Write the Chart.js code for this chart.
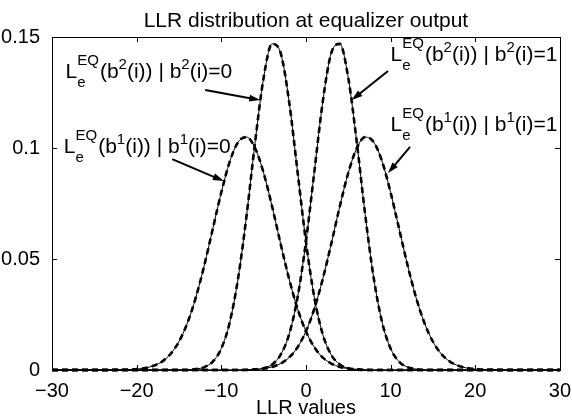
<!DOCTYPE html>
<html>
<head>
<meta charset="utf-8">
<title>LLR distribution at equalizer output</title>
<script src="https://cdn.jsdelivr.net/npm/chart.js@4.4.0/dist/chart.umd.min.js"></script>
<style>
  html, body { margin: 0; padding: 0; background: #fff; }
  canvas { display: block; }
</style>
</head>
<body>
<canvas id="llrChart" width="572" height="417"></canvas>
<script>
// LLR axis (x) and the four densities
var llrValues = [-30, -29, -28, -27, -26, -25, -24, -23, -22, -21, -20, -19, -18, -17, -16, -15, -14, -13, -12, -11,
    -10, -9, -8, -7, -6, -5, -4, -3, -2, -1, 0, 1, 2, 3, 4, 5, 6, 7, 8, 9,
    10, 11, 12, 13, 14, 15, 16, 17, 18, 19, 20, 21, 22, 23, 24, 25, 26, 27, 28, 29, 30];

// L_e^EQ(b2(i)) | b2(i)=0
var b2zero = [0, 0, 0, 0, 0, 0, 0, 0, 0, 0, 0, 0, 0, 0, 0, 0, 0, 0.0004, 0.0013, 0.0038,
    0.0097, 0.0215, 0.0416, 0.0700, 0.1028, 0.1316, 0.1469, 0.1429, 0.1212, 0.0896, 0.0578, 0.0325, 0.0159, 0.0068, 0.0025, 0.0008, 0.0002, 0, 0, 0,
    0, 0, 0, 0, 0, 0, 0, 0, 0, 0, 0, 0, 0, 0, 0, 0, 0, 0, 0, 0, 0];

// L_e^EQ(b1(i)) | b1(i)=0
var b1zero = [0, 0, 0, 0, 0, 0, 0, 0, 0.0001, 0.0001, 0.0004, 0.0009, 0.0019, 0.0038, 0.0072, 0.0128, 0.0212, 0.0328, 0.0473, 0.0637,
    0.0800, 0.0939, 0.1027, 0.1049, 0.0999, 0.0888, 0.0737, 0.0570, 0.0412, 0.0277, 0.0174, 0.0102, 0.0056, 0.0029, 0.0014, 0.0006, 0.0003, 0.0001, 0, 0,
    0, 0, 0, 0, 0, 0, 0, 0, 0, 0, 0, 0, 0, 0, 0, 0, 0, 0, 0, 0, 0];

// L_e^EQ(b2(i)) | b2(i)=1
var b2one = [0, 0, 0, 0, 0, 0, 0, 0, 0, 0, 0, 0, 0, 0, 0, 0, 0, 0, 0, 0,
    0, 0, 0, 0, 0.0002, 0.0008, 0.0025, 0.0068, 0.0159, 0.0325, 0.0578, 0.0896, 0.1212, 0.1429, 0.1469, 0.1316, 0.1028, 0.0700, 0.0416, 0.0215,
    0.0097, 0.0038, 0.0013, 0.0004, 0, 0, 0, 0, 0, 0, 0, 0, 0, 0, 0, 0, 0, 0, 0, 0, 0];

// L_e^EQ(b1(i)) | b1(i)=1
var b1one = [0, 0, 0, 0, 0, 0, 0, 0, 0, 0, 0, 0, 0, 0, 0, 0, 0, 0, 0, 0,
    0, 0, 0, 0.0001, 0.0003, 0.0006, 0.0014, 0.0029, 0.0056, 0.0102, 0.0174, 0.0277, 0.0412, 0.0570, 0.0737, 0.0888, 0.0999, 0.1049, 0.1027, 0.0939,
    0.0800, 0.0637, 0.0473, 0.0328, 0.0212, 0.0128, 0.0072, 0.0038, 0.0019, 0.0009, 0.0004, 0.0001, 0.0001, 0, 0, 0, 0, 0, 0, 0, 0];

var xTicks = [-30, -20, -10, 0, 10, 20, 30];
var yTicks = [0, 0.05, 0.1, 0.15];

var titleText = 'LLR distribution at equalizer output';
var xLabel = 'LLR values';

var FONT = '"Liberation Sans", Arial, Helvetica, sans-serif';

// text labels with arrows, in data units
var notes = [
    { bit: '2', val: '0', tx: -28.4, ty: 0.1315, x0: -11.9, y0: 0.1261, x1: -5.4, y1: 0.1216 },
    { bit: '1', val: '0', tx: -28.6, ty: 0.0977, x0: -15.8, y0: 0.0950, x1: -9.7, y1: 0.0851 },
    { bit: '2', val: '1', tx: 10.0, ty: 0.1390, x0: 9.7, y0: 0.1347, x1: 5.4, y1: 0.1216 },
    { bit: '1', val: '1', tx: 10.0, ty: 0.1075, x0: 12.3, y0: 0.1005, x1: 9.7, y1: 0.0887 }
];

function points(arr) {
    return llrValues.map(function (x, i) { return { x: x, y: arr[i] }; });
}

var curves = [b2zero, b1zero, b2one, b1one];
var datasets = [];
// thin solid lines first, dashed lines on top
curves.forEach(function (c) {
    datasets.push({
        data: points(c), borderColor: '#000', borderWidth: 1,
        pointRadius: 0, cubicInterpolationMode: 'monotone', clip: false
    });
});
curves.forEach(function (c) {
    datasets.push({
        data: points(c), borderColor: '#000', borderWidth: 2.6, borderDash: [6, 4],
        pointRadius: 0, cubicInterpolationMode: 'monotone', clip: false
    });
});

function drawNoteText(ctx, x, y, bit, val) {
    var big = '21px ' + FONT, small = '15px ' + FONT;
    var cx = x;
    ctx.fillStyle = '#000';
    ctx.textAlign = 'left';
    ctx.textBaseline = 'alphabetic';
    function put(txt, font, dy) {
        ctx.font = font;
        ctx.fillText(txt, cx, y + dy);
        return ctx.measureText(txt).width;
    }
    cx += put('L', big, 0);
    var wSup = put('EQ', small, -13);
    var wSub = put('e', small, 9);
    cx += Math.max(wSup, wSub) + 1;
    cx += put('(b', big, 0);
    cx += put(bit, small, -9);
    cx += put('(i)) | b', big, 0);
    cx += put(bit, small, -9);
    put('(i)=' + val, big, 0);
}

function drawArrow(ctx, x0, y0, x1, y1) {
    var a = Math.atan2(y1 - y0, x1 - x0);
    var len = 11, w = 3.5;
    var c = Math.cos(a), s = Math.sin(a);
    ctx.strokeStyle = '#000';
    ctx.fillStyle = '#000';
    ctx.lineWidth = 2;
    ctx.beginPath();
    ctx.moveTo(x0, y0);
    ctx.lineTo(x1 - c * len * 0.7, y1 - s * len * 0.7);
    ctx.stroke();
    ctx.beginPath();
    ctx.moveTo(x1, y1);
    ctx.lineTo(x1 - c * len - s * w, y1 - s * len + c * w);
    ctx.lineTo(x1 - c * len + s * w, y1 - s * len - c * w);
    ctx.closePath();
    ctx.fill();
}

var matlabAxes = {
    id: 'matlabAxes',
    afterDraw: function (chart) {
        var ctx = chart.ctx, a = chart.chartArea;
        var xs = chart.scales.x, ys = chart.scales.y;
        ctx.save();
        // box
        ctx.strokeStyle = '#000';
        ctx.lineWidth = 1;
        ctx.strokeRect(Math.round(a.left) + 0.5, Math.round(a.top) + 0.5,
            Math.round(a.right - a.left), Math.round(a.bottom - a.top));
        // inward ticks on all four sides
        var tl = 5;
        ctx.beginPath();
        xTicks.forEach(function (v) {
            var px = Math.round(xs.getPixelForValue(v)) + 0.5;
            ctx.moveTo(px, a.bottom); ctx.lineTo(px, a.bottom - tl);
            ctx.moveTo(px, a.top); ctx.lineTo(px, a.top + tl);
        });
        yTicks.forEach(function (v) {
            var py = Math.round(ys.getPixelForValue(v)) + 0.5;
            ctx.moveTo(a.left, py); ctx.lineTo(a.left + tl, py);
            ctx.moveTo(a.right, py); ctx.lineTo(a.right - tl, py);
        });
        ctx.stroke();
        // title and x label
        ctx.fillStyle = '#000';
        ctx.textAlign = 'center';
        ctx.textBaseline = 'alphabetic';
        var mid = (a.left + a.right) / 2;
        ctx.font = '21px ' + FONT;
        ctx.fillText(titleText, mid, 27);
        ctx.font = '20px ' + FONT;
        ctx.fillText(xLabel, mid, 414);
        // annotations
        notes.forEach(function (n) {
            drawNoteText(ctx, xs.getPixelForValue(n.tx), ys.getPixelForValue(n.ty), n.bit, n.val);
            drawArrow(ctx, xs.getPixelForValue(n.x0), ys.getPixelForValue(n.y0),
                xs.getPixelForValue(n.x1), ys.getPixelForValue(n.y1));
        });
        ctx.restore();
    }
};

var ctx = document.getElementById('llrChart').getContext('2d');
var chart = new Chart(ctx, {
    type: 'line',
    data: { datasets: datasets },
    options: {
        responsive: false,
        animation: false,
        events: [],
        layout: { padding: { top: 37, right: 12, left: 0, bottom: 0 } },
        plugins: { legend: { display: false }, tooltip: { enabled: false }, title: { display: false } },
        scales: {
            x: {
                type: 'linear', min: -30, max: 30,
                grid: { display: false }, border: { display: false },
                afterBuildTicks: function (s) { s.ticks = xTicks.map(function (v) { return { value: v }; }); },
                afterFit: function (s) { s.height = 47; },
                ticks: {
                    color: '#000', padding: 1, maxRotation: 0,
                    font: { family: FONT, size: 20 },
                    callback: function (v) { return String(v).replace('-', '\u2212'); }
                }
            },
            y: {
                min: 0, max: 0.15,
                grid: { display: false }, border: { display: false },
                afterBuildTicks: function (s) { s.ticks = yTicks.map(function (v) { return { value: v }; }); },
                afterFit: function (s) { s.width = 52; },
                ticks: {
                    color: '#000', padding: 4,
                    font: { family: FONT, size: 20 },
                    callback: function (v) { return String(v); }
                }
            }
        }
    },
    plugins: [matlabAxes]
});
</script>
</body>
</html>
